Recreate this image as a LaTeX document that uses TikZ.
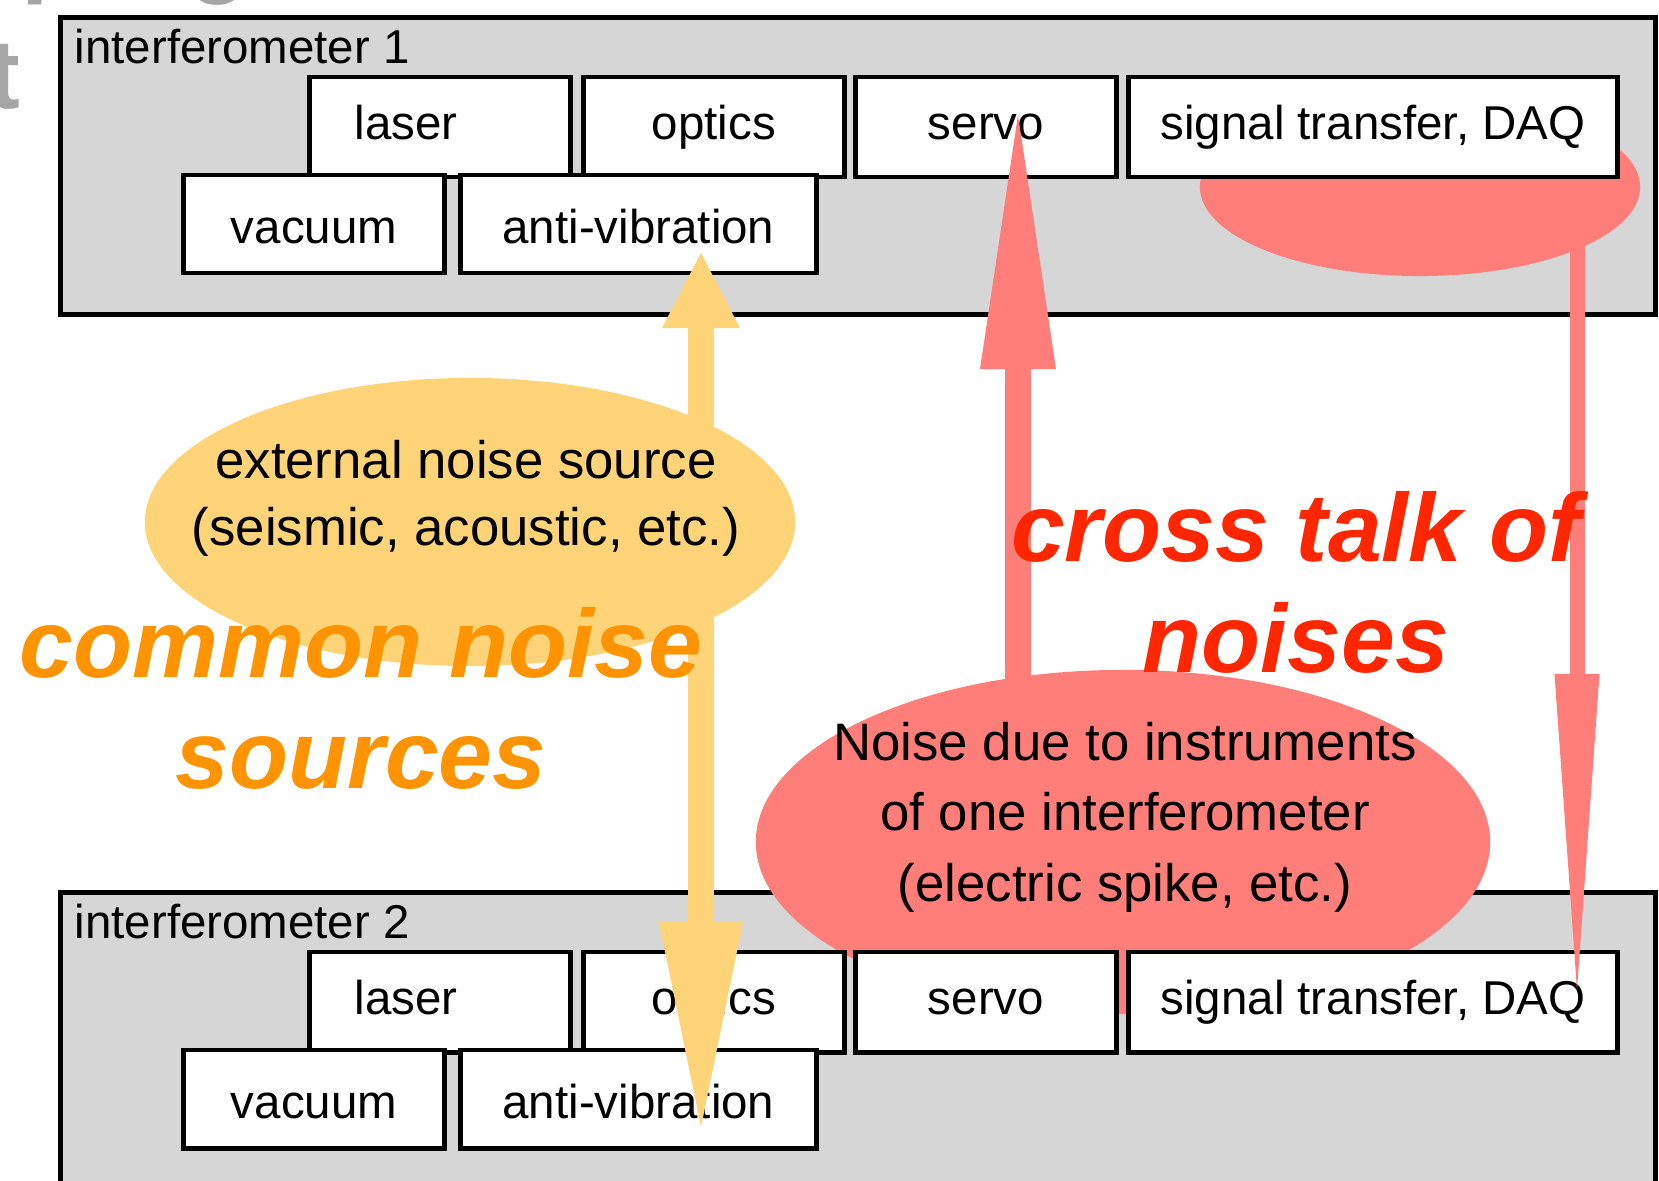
\documentclass[tikz,border=0pt]{standalone}
\usepackage{fontspec}
\setmainfont{Liberation Sans}
\usetikzlibrary{arrows.meta,shapes.geometric,positioning}
\definecolor{boxgray}{HTML}{D6D6D6}
\definecolor{salmon}{HTML}{FF7E79}
\definecolor{cantaloupe}{HTML}{FFD479}
\definecolor{tangerine}{HTML}{FF9300}
\definecolor{alarm}{HTML}{FF2600}
\definecolor{titlegray}{HTML}{A6A6A6}

\begin{document}
\begin{tikzpicture}[x=0.01cm,y=-0.01cm,
 ifo/.style={draw,fill=boxgray,line width=1.4pt,anchor=north west,minimum width=15.94cm,minimum height=2.97cm,inner sep=0pt},
 part/.style={draw,fill=white,line width=1.4pt,minimum width=2.6cm,minimum height=1cm,inner sep=0pt,font=\fontsize{13.5}{16}\selectfont,text height=0.34cm,text depth=0.1cm},
 lowpart/.style={part,minimum height=0.98cm,text height=0.43cm,text depth=0.05cm},
 blob/.style={ellipse,inner sep=0pt},
 note/.style={align=center,anchor=base,inner sep=0pt,font=\fontsize{15}{19}\selectfont},
 big/.style={align=center,anchor=base,inner sep=0pt,font=\fontsize{27.5}{31.5}\selectfont\bfseries\itshape},
 ttl/.style={anchor=base west,inner sep=0pt,text=titlegray,font=\fontsize{28}{32}\selectfont\bfseries}]
\useasboundingbox (0,0) rectangle (1659,1181);
\node[ttl] (ttlp) at (21,-16){p};\node[ttl] (ttlg) at (188,-16){g};\node[ttl,anchor=base east] (ttlt) at (21,108){t};
\foreach \i/\n/\dy in {A/1/0,B/2/875}{
 \node[ifo] (ifo\i) at (58,15+\dy){};
 \node[anchor=base west,inner sep=0pt,font=\fontsize{13.5}{16}\selectfont] (ifo\i lbl) at (74,63+\dy){interferometer \n};}
\node[blob,fill=salmon,minimum width=4.4cm,minimum height=1.78cm] (spikeA) at (1420,187){};
\node[blob,fill=salmon,minimum width=7.34cm,minimum height=3.44cm] (spikeB) at (1123,842){};
\node[blob,fill=cantaloupe,minimum width=6.5cm,minimum height=2.88cm] (ext) at (470,522){};
\foreach \i/\dy in {A/0,B/875}{
 \node[part] (laser\i) at (440,127+\dy){laser\rule{0.68cm}{0pt}};
 \node[part] (optics\i) at (714,127+\dy){optics};
 \node[part] (servo\i) at (986,127+\dy){servo};
 \node[part,minimum width=4.88cm] (daq\i) at (1373,127+\dy){signal transfer, DAQ};
 \node[lowpart] (vacuum\i) at (314,224+\dy){vacuum};
 \node[lowpart,minimum width=3.55cm] (av\i) at (638.5,224+\dy){anti-vibration};}
\coordinate (avtip) at (701,253);\coordinate (avfoot) at (701,1127);
\coordinate (servotip) at (1018,115);\coordinate (servofoot) at (1018,700);
\coordinate (daqfoot) at (1577,235);\coordinate (daqtip) at (1577,990);
\draw[cantaloupe,line width=0.26cm,{Triangle[length=0.75cm,width=0.78cm,line width=0pt]}-{Triangle[length=2.05cm,width=0.84cm,line width=0pt]}] (avtip) -- (avfoot);
\draw[salmon,line width=0.25cm,-{Triangle[length=2.54cm,width=0.76cm,line width=0pt]}] (servofoot) -- (servotip);
\draw[salmon,line width=0.15cm,-{Triangle[length=3.16cm,width=0.45cm,line width=0pt]}] (daqfoot) -- (daqtip);
\node[note] (exttxt) at (466,545){external noise source\\(seismic, acoustic, etc.)};
\node[note,font=\fontsize{15}{20}\selectfont] (spiketxt) at (1125,901){Noise due to instruments\\of one interferometer\\(electric spike, etc.)};
\node[big,text=tangerine] (commontxt) at (361,788){common noise\\sources};
\node[big,text=alarm] (xtalktxt) at (1296,672){cross talk of\\noises};
\end{tikzpicture}
\end{document}
